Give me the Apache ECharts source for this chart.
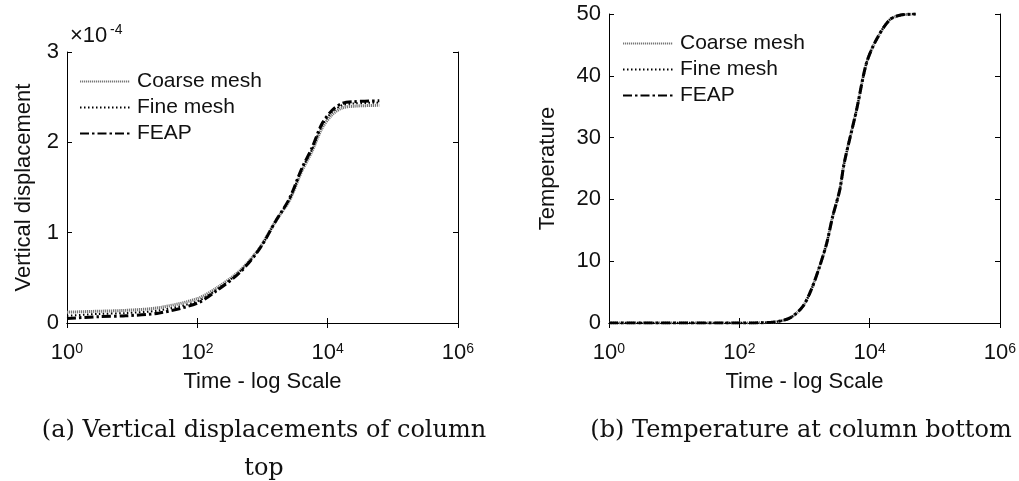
<!DOCTYPE html>
<html lang="en">
<head>
    <meta charset="UTF-8">
    <title>Column top displacement and bottom temperature</title>
    <script src="https://cdn.jsdelivr.net/npm/echarts@6/dist/echarts.min.js"></script>
    <style>
        body { padding: 0; margin: 0; background: #fff; }
        #chart { width: 1019px; height: 481px; }
    </style>
</head>
<body>
    <div id="chart"></div>

    <script>
        // (a) vertical displacement of column top, values in 1e-4
        const timeA = [1, 3, 8, 26, 100, 200, 450, 900, 1600, 2600, 4000, 5750, 8100, 11500, 16600, 25000, 62000];
        const coarseA = [0.12, 0.13, 0.14, 0.17, 0.27, 0.39, 0.58, 0.83, 1.13, 1.36, 1.68, 1.90, 2.15, 2.30, 2.38, 2.40, 2.41];
        const fineA   = [0.08, 0.10, 0.11, 0.14, 0.24, 0.37, 0.57, 0.82, 1.13, 1.37, 1.70, 1.92, 2.18, 2.33, 2.41, 2.43, 2.44];
        const feapA   = [0.05, 0.07, 0.08, 0.11, 0.22, 0.36, 0.56, 0.82, 1.13, 1.38, 1.71, 1.94, 2.20, 2.35, 2.43, 2.45, 2.46];

        // (b) temperature at column bottom
        const timeB = [1, 100, 300, 590, 930, 1260, 1700, 2190, 2700, 3470, 4070, 6300, 8900, 12600, 20000, 29000, 51000];
        const coarseB = [0, 0, 0.1, 0.8, 2.6, 5.3, 9.1, 12.9, 17.2, 21.5, 25.9, 34.5, 42.0, 45.8, 49.0, 49.8, 50.0];
        const fineB   = [0, 0, 0.1, 0.8, 2.6, 5.3, 9.1, 12.9, 17.2, 21.5, 25.9, 34.5, 42.0, 45.8, 49.0, 49.8, 50.0];
        const feapB   = [0, 0, 0.1, 0.8, 2.6, 5.3, 9.1, 12.9, 17.2, 21.5, 25.9, 34.5, 42.0, 45.8, 49.0, 49.8, 50.0];

        const seriesNames = ['Coarse mesh', 'Fine mesh', 'FEAP'];

        const sans = 'Liberation Sans, Arial, sans-serif';
        const ink = '#111';

        function pairs(xs, ys) {
            return xs.map((x, i) => [x, ys[i]]);
        }

        const lineLooks = [
            { color: '#777', width: 3, type: [1.2, 0.8] },
            { color: '#000', width: 2, type: [1.5, 2.5] },
            { color: '#000', width: 3, type: [9, 3, 2.5, 3] }
        ];

        function logAxis(grid, pos, labels) {
            return {
                type: 'log', logBase: 10, gridIndex: grid, position: pos,
                min: 1, max: 1e6, interval: 2,
                axisLine: { show: true, lineStyle: { color: '#000', width: 1 } },
                axisTick: { show: true, inside: true, length: 5, lineStyle: { color: '#000' } },
                minorTick: { show: false },
                splitLine: { show: false },
                axisLabel: labels ? {
                    margin: 19,
                    formatter: v => '{b|10}{s|' + Math.round(Math.log10(v)) + '}',
                    rich: {
                        b: { fontFamily: sans, fontSize: 22, lineHeight: 22, color: ink },
                        s: { fontFamily: sans, fontSize: 14, lineHeight: 14, color: ink, verticalAlign: 'top' }
                    }
                } : { show: false },
                name: labels ? 'Time - log Scale' : '',
                nameLocation: 'middle', nameGap: 48,
                nameTextStyle: { fontFamily: sans, fontSize: 22, color: ink }
            };
        }

        function valAxis(grid, pos, max, step, title, gap) {
            const labels = pos === 'left';
            return {
                type: 'value', gridIndex: grid, position: pos,
                min: 0, max: max, interval: step,
                axisLine: { show: true, lineStyle: { color: '#000', width: 1 } },
                axisTick: { show: true, inside: true, length: 5, lineStyle: { color: '#000' } },
                splitLine: { show: false },
                axisLabel: labels ? { margin: 8, fontFamily: sans, fontSize: 22, color: ink } : { show: false },
                name: labels ? title : '',
                nameLocation: 'middle', nameRotate: 90, nameGap: gap,
                nameTextStyle: { fontFamily: sans, fontSize: 22, color: ink }
            };
        }

        function makeSeries(grid, xs, ysList) {
            return ysList.map((ys, i) => ({
                name: seriesNames[i],
                type: 'line',
                xAxisIndex: grid * 2,
                yAxisIndex: grid * 2,
                data: pairs(xs, ys),
                symbol: 'none',
                smooth: 0.3,
                lineStyle: lineLooks[i],
                itemStyle: { color: lineLooks[i].color },
                z: 2 + i   // FEAP drawn last, on top
            }));
        }

        function legendAt(left, top) {
            return {
                data: seriesNames, orient: 'vertical', left: left, top: top,
                itemWidth: 50, itemHeight: 14, itemGap: 5,
                // hide the marker dot, keep only the line sample
                itemStyle: { color: 'rgba(0,0,0,0)', borderColor: 'rgba(0,0,0,0)', borderWidth: 0 },
                textStyle: { fontFamily: sans, fontSize: 21, color: ink, padding: [0, 0, 0, 2] },
                selectedMode: false
            };
        }

        const chart = echarts.init(document.getElementById('chart'), null, { renderer: 'canvas' });
        chart.setOption({
            animation: false,
            backgroundColor: '#fff',
            grid: [
                { left: 67, top: 52, width: 391, height: 271, outerBoundsMode: 'none' },
                { left: 609, top: 14, width: 391, height: 309, outerBoundsMode: 'none' }
            ],
            xAxis: [
                logAxis(0, 'bottom', true), logAxis(0, 'top', false),
                logAxis(1, 'bottom', true), logAxis(1, 'top', false)
            ],
            yAxis: [
                valAxis(0, 'left', 3, 1, 'Vertical displacement', 32), valAxis(0, 'right', 3, 1, '', 0),
                valAxis(1, 'left', 50, 10, 'Temperature', 50), valAxis(1, 'right', 50, 10, '', 0)
            ],
            legend: [legendAt(74, 66), legendAt(617, 28)],
            series: makeSeries(0, timeA, [coarseA, fineA, feapA])
                .concat(makeSeries(1, timeB, [coarseB, fineB, feapB])),
            graphic: [
                {
                    type: 'text', x: 70, y: 36,
                    style: {
                        text: '\u00d710', font: '22px ' + sans, fill: ink,
                        align: 'left', verticalAlign: 'middle'
                    }
                },
                {
                    type: 'text', x: 110, y: 30,
                    style: {
                        text: '-4', font: '14px ' + sans, fill: ink,
                        align: 'left', verticalAlign: 'middle'
                    }
                },
                {
                    type: 'text', x: 264, y: 450,
                    style: {
                        text: '(a) Vertical displacements of column\ntop',
                        font: '24px "DejaVu Serif", serif', fill: ink,
                        align: 'center', verticalAlign: 'middle', lineHeight: 38
                    }
                },
                {
                    type: 'text', x: 801, y: 431,
                    style: {
                        text: '(b) Temperature at column bottom',
                        font: '24px "DejaVu Serif", serif', fill: ink,
                        align: 'center', verticalAlign: 'middle'
                    }
                }
            ]
        });

        window.addEventListener('resize', function() {
            chart.resize();
        });
    </script>
</body>
</html>
